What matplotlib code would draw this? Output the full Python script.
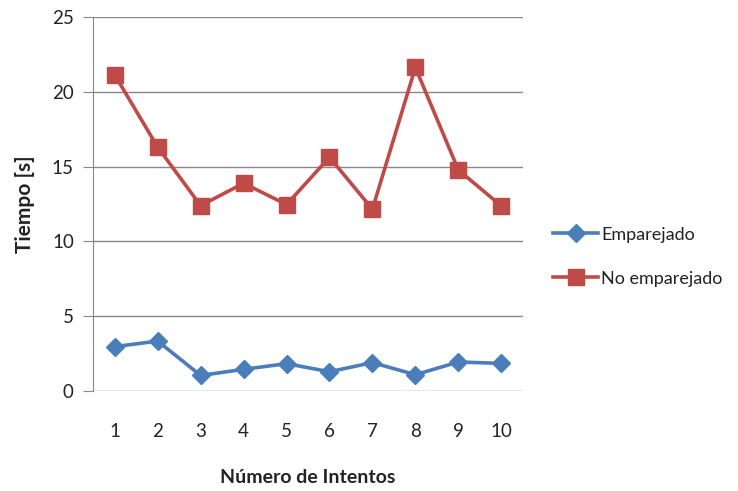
import matplotlib
matplotlib.use("Agg")
import matplotlib.pyplot as plt

intentos = [1, 2, 3, 4, 5, 6, 7, 8, 9, 10]
emparejado = [2.95, 3.32, 1.02, 1.43, 1.81, 1.27, 1.88, 1.07, 1.92, 1.83]
no_emparejado = [21.14, 16.30, 12.39, 13.89, 12.46, 15.63, 12.15, 21.64, 14.78, 12.37]
y_ticks = [0, 5, 10, 15, 20, 25]

plt.rcParams['font.family'] = ['Lato', 'DejaVu Sans']

fig = plt.figure(figsize=(7.38, 4.91), dpi=100)
ax = fig.add_axes([0.1264, 0.2043, 0.5819, 0.7605])

blue = '#4A7EBB'
red = '#BE4B48'
grid_c = '#888888'
text_c = '#222222'

ax.plot(intentos, emparejado, color=blue, lw=2.6, marker='D', ms=9.5,
        label='Emparejado', solid_joinstyle='round')
ax.plot(intentos, no_emparejado, color=red, lw=2.6, marker='s', ms=11.5,
        label='No emparejado', solid_joinstyle='round')

ax.set_xlim(0.5, 10.5)
ax.set_ylim(0, 25)
ax.set_yticks(y_ticks)
ax.set_xticks(intentos)
ax.yaxis.grid(True, color=grid_c, lw=1)
ax.set_axisbelow(True)
for side in ['top', 'right', 'bottom']:
    ax.spines[side].set_visible(False)
ax.spines['left'].set_color(grid_c)
ax.tick_params(axis='y', length=7, color=grid_c, labelsize=13.5, labelcolor=text_c, pad=7)
ax.tick_params(axis='x', length=0, labelsize=13.5, labelcolor=text_c, pad=23)

ax.set_ylabel('Tiempo [s]', fontsize=15, fontweight='bold', color=text_c, labelpad=12)
ax.set_xlabel('Número de Intentos', fontsize=14, fontweight='bold', color=text_c, labelpad=21)

leg = ax.legend(loc='center left', bbox_to_anchor=(1.033, 0.359), frameon=False,
                fontsize=13, handlelength=2.5, handletextpad=0.15, labelspacing=1.55)
for t in leg.get_texts():
    t.set_color(text_c)

fig.savefig('out.png', dpi=100)
